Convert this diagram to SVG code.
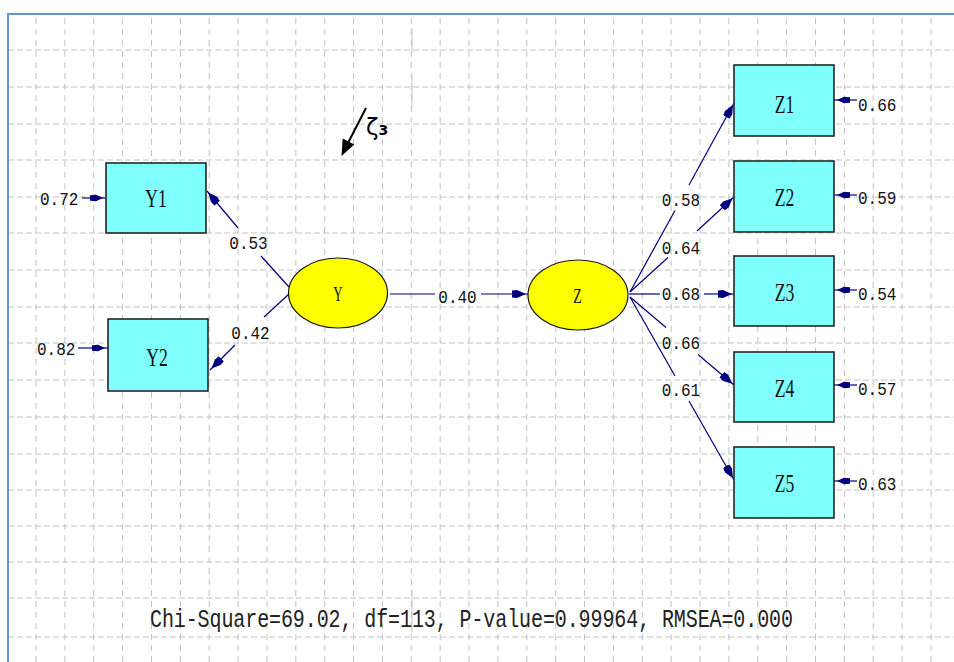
<svg xmlns="http://www.w3.org/2000/svg" width="954" height="662" viewBox="0 0 954 662">
<style>
.gh{fill:none;stroke:#c2c2c2;stroke-width:1;stroke-dasharray:6 3}
.gv{fill:none;stroke:#c2c2c2;stroke-width:1;stroke-dasharray:6 5}
.box{fill:#80ffff;stroke:#262626;stroke-width:1.6}
.ell{fill:#ffff00;stroke:#1a1a1a;stroke-width:1.2}
.lbl{font-family:"Liberation Serif",serif;font-size:26px;fill:#111;text-anchor:middle}
.elbl{font-family:"Liberation Serif",serif;font-size:21px;fill:#111;text-anchor:middle}
.num{font-family:"Liberation Mono",monospace;font-size:16px;fill:#111}
.mid{text-anchor:middle}
.c{fill:none;stroke:#00007f;stroke-width:1.2}
.stat{font-family:"Liberation Mono",monospace;font-size:20px;fill:#222}
</style>
<defs>
<marker id="ah" viewBox="0 0 17 10" refX="16" refY="5" markerWidth="17" markerHeight="10" markerUnits="userSpaceOnUse" orient="auto">
<path d="M0,1.5 L5,1 L14,5 L5,9 L0,8.5 Z" fill="#00007f"/>
</marker>
<marker id="eh" viewBox="0 0 16 9" refX="16" refY="4.5" markerWidth="16" markerHeight="9" markerUnits="userSpaceOnUse" orient="auto">
<path d="M0,1.8 L6,1.3 L13,4.5 L6,7.7 L0,7.2 Z" fill="#00007f"/>
</marker>
</defs>
<rect x="0" y="0" width="954" height="662" fill="#ffffff"/>
<g id="grid">
<path class="gh" d="M8,50H954M8,87H954M8,124H954M8,160H954M8,197H954M8,233H954M8,270H954M8,307H954M8,343H954M8,380H954M8,417H954M8,454H954M8,490H954M8,526H954M8,562H954M8,598H954M8,637H954"/>
<path class="gv" d="M36,18V662M64.9,18V662M93.7,18V662M122.6,18V662M151.5,18V662M180.4,18V662M209.2,18V662M238.1,18V662M267,18V662M295.8,18V662M324.7,18V662M353.6,18V662M382.4,18V662M411.3,18V662M440.2,18V662M469,18V662M497.9,18V662M526.8,18V662M555.7,18V662M584.5,18V662M613.4,18V662M642.3,18V662M671.1,18V662M700,18V662M728.9,18V662M757.8,18V662M786.6,18V662M815.5,18V662M844.4,18V662M873.2,18V662M902.1,18V662M931,18V662"/>
<path d="M412,28V53M412,75V107M412,590V632" stroke="#c8c8c8" stroke-width="1" fill="none"/>
</g>
<path d="M8,662V14H954" fill="none" stroke="#6592d2" stroke-width="2"/>
<g id="connectors">
<path class="c" d="M289,287L261,256"/>
<path class="c" d="M238,228L207,191" marker-end="url(#ah)"/>
<path class="c" d="M289,294L264,317"/>
<path class="c" d="M235,345L210,370" marker-end="url(#ah)"/>
<path class="c" d="M390,294L435,294"/>
<path class="c" d="M481,294L528,294" marker-end="url(#ah)"/>
<path class="c" d="M630,292L675,210.5"/>
<path class="c" d="M689,185L734,103" marker-end="url(#ah)"/>
<path class="c" d="M630,292L668,257.5"/>
<path class="c" d="M697,231L734,197" marker-end="url(#ah)"/>
<path class="c" d="M629,294L660,294"/>
<path class="c" d="M704,294L734,294" marker-end="url(#ah)"/>
<path class="c" d="M630,297L666,327.5"/>
<path class="c" d="M698,354.5L734,385" marker-end="url(#ah)"/>
<path class="c" d="M630,297L675,376"/>
<path class="c" d="M689,401L734,480" marker-end="url(#ah)"/>
<path class="c" d="M82,198H106" marker-end="url(#eh)"/>
<path class="c" d="M78,348H108" marker-end="url(#eh)"/>
<path class="c" d="M857,100H834" marker-end="url(#eh)"/>
<path class="c" d="M857,195H834" marker-end="url(#eh)"/>
<path class="c" d="M857,290H834" marker-end="url(#eh)"/>
<path class="c" d="M857,385H834" marker-end="url(#eh)"/>
<path class="c" d="M857,481H834" marker-end="url(#eh)"/>
<path d="M366,108L348,143" stroke="#000" stroke-width="2" fill="none"/>
<polygon points="341.5,156 354.3,144.5 342.7,138.5" fill="#000"/>
</g>
<g id="labels">
<text class="num" transform="translate(40,205) scale(1,1.2)">0.72</text>
<text class="num" transform="translate(37,355) scale(1,1.2)">0.82</text>
<text class="num mid" transform="translate(248.5,249) scale(1,1.2)">0.53</text>
<text class="num mid" transform="translate(250.5,339) scale(1,1.2)">0.42</text>
<text class="num mid" transform="translate(457.5,302.5) scale(1,1.2)">0.40</text>
<text class="num mid" transform="translate(681,205.5) scale(1,1.2)">0.58</text>
<text class="num mid" transform="translate(681,253.5) scale(1,1.2)">0.64</text>
<text class="num mid" transform="translate(681,300) scale(1,1.2)">0.68</text>
<text class="num mid" transform="translate(681,348.5) scale(1,1.2)">0.66</text>
<text class="num mid" transform="translate(681,396) scale(1,1.2)">0.61</text>
<text class="num" transform="translate(858,110.5) scale(1,1.2)">0.66</text>
<text class="num" transform="translate(858,204) scale(1,1.2)">0.59</text>
<text class="num" transform="translate(858,299.5) scale(1,1.2)">0.54</text>
<text class="num" transform="translate(858,395) scale(1,1.2)">0.57</text>
<text class="num" transform="translate(858,489.5) scale(1,1.2)">0.63</text>
<text x="366" y="135" font-family="'DejaVu Sans',sans-serif" font-size="23" fill="#000">ζ<tspan font-size="14" font-weight="bold">3</tspan></text>
<text class="stat" transform="translate(150,627) scale(1,1.25)" textLength="643" lengthAdjust="spacing">Chi-Square=69.02, df=113, P-value=0.99964, RMSEA=0.000</text>
</g>
<g id="Y1"><rect class="box" x="106" y="163" width="100" height="70"/><text class="lbl" transform="translate(156,207) scale(0.68,1)">Y1</text></g>
<g id="Y2"><rect class="box" x="108" y="319" width="100" height="72"/><text class="lbl" transform="translate(157,366) scale(0.68,1)">Y2</text></g>
<g id="Y"><ellipse class="ell" cx="338" cy="293" rx="49.5" ry="35"/><text class="elbl" transform="translate(338,300.5) scale(0.62,1)">Y</text></g>
<g id="Z"><ellipse class="ell" cx="578" cy="295" rx="50" ry="35"/><text class="elbl" transform="translate(577.5,303) scale(0.66,1)">Z</text></g>
<g id="Z1"><rect class="box" x="734" y="65" width="100" height="71"/><text class="lbl" transform="translate(784.5,113) scale(0.68,1)">Z1</text></g>
<g id="Z2"><rect class="box" x="734" y="161" width="100" height="71"/><text class="lbl" transform="translate(784.5,206) scale(0.68,1)">Z2</text></g>
<g id="Z3"><rect class="box" x="734" y="256" width="100" height="70"/><text class="lbl" transform="translate(784.5,301) scale(0.68,1)">Z3</text></g>
<g id="Z4"><rect class="box" x="734" y="352" width="100" height="70"/><text class="lbl" transform="translate(784.5,396.5) scale(0.68,1)">Z4</text></g>
<g id="Z5"><rect class="box" x="734" y="447" width="100" height="71"/><text class="lbl" transform="translate(784.5,491.5) scale(0.68,1)">Z5</text></g>
</svg>
